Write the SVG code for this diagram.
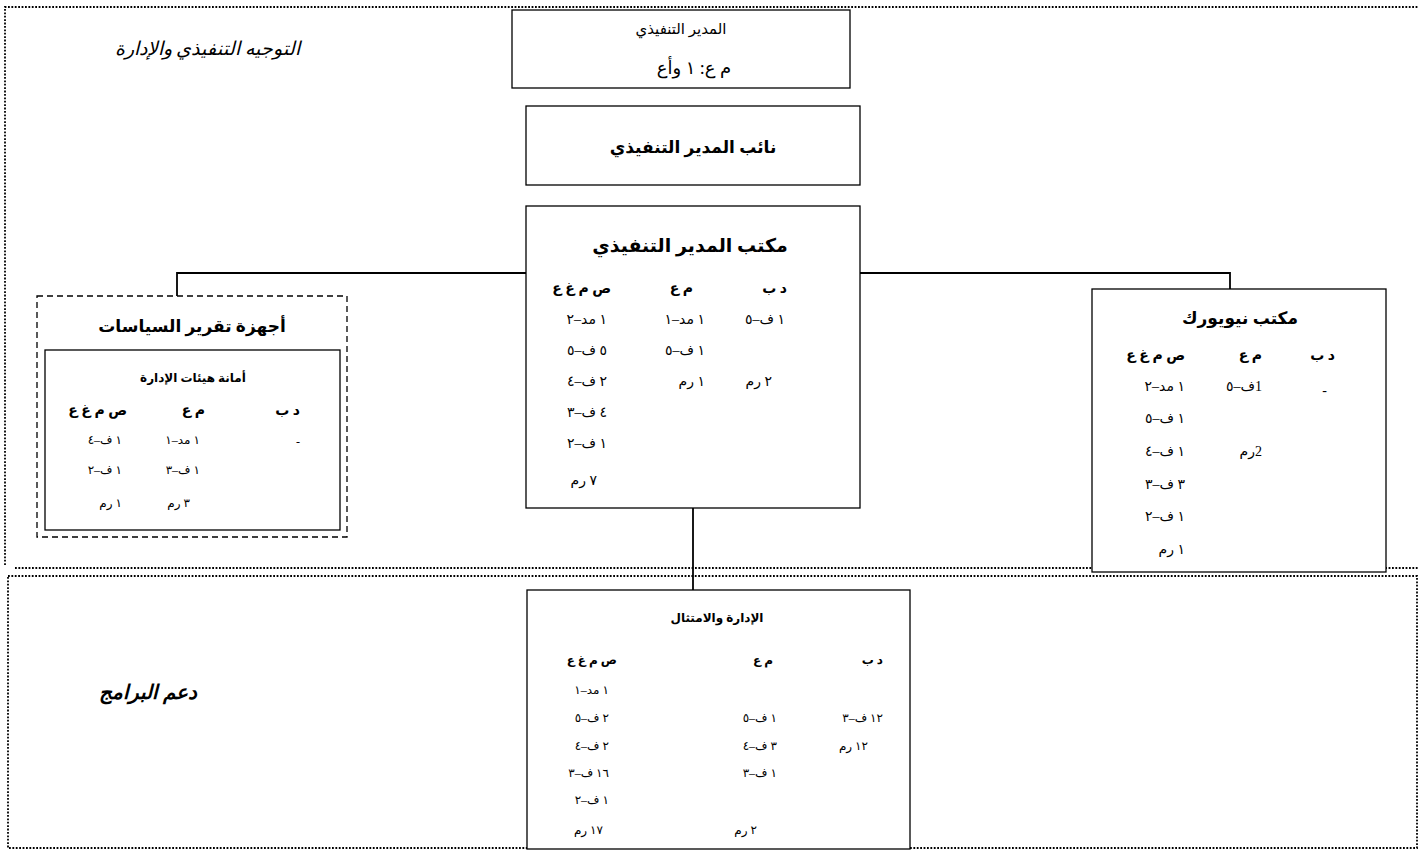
<svg xmlns="http://www.w3.org/2000/svg" width="1419" height="856" viewBox="0 0 1419 856">
<style>
text{font-family:"Liberation Serif","DejaVu Sans","Noto Sans",serif;fill:#000;direction:rtl;}
.box{fill:#fff;stroke:#000;stroke-width:1.3;}
.dash{fill:#fff;stroke:#000;stroke-width:1.3;stroke-dasharray:6 4;}
.frame{fill:none;stroke:#000;stroke-width:1.8;stroke-dasharray:1.8 1.6;}
.conn{fill:none;stroke:#000;stroke-width:1.8;}
.t{font-size:15px;text-anchor:middle;}
.tb{font-size:17px;font-weight:bold;text-anchor:middle;}
.h{font-size:14px;font-weight:bold;text-anchor:start;}
.c{font-size:12px;text-anchor:start;}
.c2{font-size:14px;text-anchor:start;}
.hs{font-size:12px;font-weight:bold;text-anchor:start;}
.hm{font-size:12px;font-weight:bold;text-anchor:middle;}
.lab{font-style:italic;text-anchor:start;}
</style>
<g id="frames">
<path class="frame" d="M5,565 V7 H1419"/>
<path class="frame" d="M15,568 H1419"/>
<path class="frame" d="M8,576 H1417 V848 H8 Z"/>
</g>
<g id="label-top"><text class="lab" x="300" y="55" style="font-size:19px">التوجيه التنفيذي والإدارة</text></g>
<g id="label-bottom"><text class="lab" x="197" y="699" style="font-size:20px;font-weight:bold">دعم البرامج</text></g>
<g id="connectors">
<path class="conn" d="M526,273 H177 V296"/>
<path class="conn" d="M860,273 H1230 V289"/>
<path class="conn" d="M693,508 V590"/>
</g>
<g id="node-ed">
<rect class="box" x="512" y="10" width="338" height="78"/>
<text class="t" x="681" y="34">المدير التنفيذي</text>
<text class="t" x="694" y="74" style="font-size:18px">م ع: ١ وأع</text>
</g>
<g id="node-ded">
<rect class="box" x="526" y="106" width="334" height="79"/>
<text class="tb" x="693" y="153">نائب المدير التنفيذي</text>
</g>
<g id="node-office">
<rect class="box" x="526" y="206" width="334" height="302"/>
<text class="tb" x="690" y="252" style="font-size:19px">مكتب المدير التنفيذي</text>
<text class="h" x="787" y="293">د ب</text>
<text class="h" x="693" y="293">م ع</text>
<text class="h" x="611" y="293">ص م غ ع</text>
<text class="c2" x="785" y="324">١ ف–٥</text>
<text class="c2" x="705" y="324">١ مد–١</text>
<text class="c2" x="607" y="324">١ مد–٢</text>
<text class="c2" x="705" y="355">١ ف–٥</text>
<text class="c2" x="607" y="355">٥ ف–٥</text>
<text class="c2" x="772" y="386">٢ رم</text>
<text class="c2" x="705" y="386">١ رم</text>
<text class="c2" x="607" y="386">٢ ف–٤</text>
<text class="c2" x="607" y="417">٤ ف–٣</text>
<text class="c2" x="607" y="448">١ ف–٢</text>
<text class="c2" x="597" y="485">٧ رم</text>
</g>
<g id="node-policy">
<rect class="dash" x="37" y="296" width="310" height="241"/>
<text class="tb" x="192" y="332">أجهزة تقرير السياسات</text>
<g id="node-secretariat">
<rect class="box" x="45" y="350" width="295" height="180"/>
<text class="hm" x="193" y="382">أمانة هيئات الإدارة</text>
<text class="h" x="300" y="415">د ب</text>
<text class="h" x="205" y="415">م ع</text>
<text class="h" x="127" y="415">ص م غ ع</text>
<text class="c" x="300" y="446">-</text>
<text class="c" x="200" y="444">١ مد–١</text>
<text class="c" x="122" y="444">١ ف–٤</text>
<text class="c" x="200" y="474">١ ف–٣</text>
<text class="c" x="122" y="474">١ ف–٢</text>
<text class="c" x="190" y="507">٣ رم</text>
<text class="c" x="122" y="507">١ رم</text>
</g>
</g>
<g id="node-ny">
<rect class="box" x="1092" y="289" width="294" height="283"/>
<text class="tb" x="1240" y="324">مكتب نيويورك</text>
<text class="h" x="1335" y="360">د ب</text>
<text class="h" x="1262" y="360">م ع</text>
<text class="h" x="1185" y="360">ص م غ ع</text>
<text class="c2" x="1327" y="395">-</text>
<text class="c2" x="1262" y="391">1ف–٥</text>
<text class="c2" x="1185" y="391">١ مد–٢</text>
<text class="c2" x="1185" y="423">١ ف–٥</text>
<text class="c2" x="1262" y="456">2رم</text>
<text class="c2" x="1185" y="456">١ ف–٤</text>
<text class="c2" x="1185" y="489">٣ ف–٣</text>
<text class="c2" x="1185" y="521">١ ف–٢</text>
<text class="c2" x="1185" y="554">١ رم</text>
</g>
<g id="node-admin">
<rect class="box" x="527" y="590" width="383" height="259"/>
<text class="hm" x="717" y="622">الإدارة والامتثال</text>
<text class="hs" x="883" y="664">د ب</text>
<text class="hs" x="773" y="664">م ع</text>
<text class="hs" x="617" y="664">ص م غ ع</text>
<text class="c" x="609" y="694">١ مد–١</text>
<text class="c" x="883" y="722">١٢ ف–٣</text>
<text class="c" x="777" y="722">١ ف–٥</text>
<text class="c" x="609" y="722">٢ ف–٥</text>
<text class="c" x="868" y="750">١٢ رم</text>
<text class="c" x="777" y="750">٣ ف–٤</text>
<text class="c" x="609" y="750">٢ ف–٤</text>
<text class="c" x="777" y="777">١ ف–٣</text>
<text class="c" x="609" y="777">١٦ ف–٣</text>
<text class="c" x="609" y="804">١ ف–٢</text>
<text class="c" x="757" y="834">٢ رم</text>
<text class="c" x="603" y="834">١٧ رم</text>
</g>
</svg>
